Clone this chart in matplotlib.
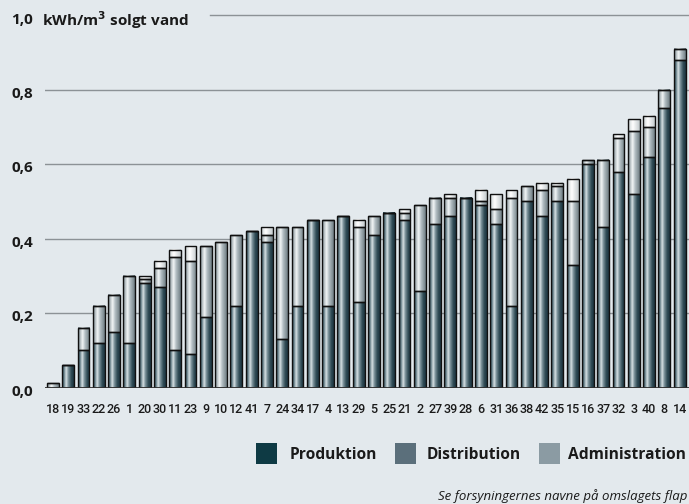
import numpy as np
import matplotlib.pyplot as plt
from matplotlib.colors import LinearSegmentedColormap
from matplotlib import transforms

# Forsyninger sorteret efter samlet forbrug
forsyninger = ['18', '19', '33', '22', '26', '1', '20', '30', '11', '23',
               '9', '10', '12', '41', '7', '24', '34', '17', '4', '13',
               '29', '5', '25', '21', '2', '27', '39', '28', '6', '31',
               '36', '38', '42', '35', '15', '16', '37', '32', '3', '40',
               '8', '14']

# kWh/m3 solgt vand
produktion = [0.0, 0.061, 0.10, 0.12, 0.15, 0.12, 0.28, 0.27, 0.10, 0.09,
              0.19, 0.0, 0.22, 0.42, 0.39, 0.13, 0.22, 0.45, 0.22, 0.46,
              0.23, 0.41, 0.47, 0.45, 0.26, 0.44, 0.46, 0.51, 0.49, 0.44,
              0.22, 0.50, 0.46, 0.50, 0.33, 0.60, 0.43, 0.58, 0.52, 0.62,
              0.75, 0.88]
distribution = [0.012, 0.0, 0.06, 0.10, 0.10, 0.18, 0.012, 0.05, 0.25, 0.25,
                0.19, 0.39, 0.19, 0.0, 0.02, 0.30, 0.21, 0.0, 0.23, 0.0,
                0.20, 0.05, 0.0, 0.02, 0.23, 0.07, 0.05, 0.0, 0.01, 0.04,
                0.29, 0.04, 0.07, 0.04, 0.17, 0.01, 0.18, 0.09, 0.17, 0.08,
                0.05, 0.03]
administration = [0.0, 0.0, 0.0, 0.0, 0.0, 0.0, 0.008, 0.02, 0.02, 0.04,
                  0.0, 0.0, 0.0, 0.0, 0.02, 0.0, 0.0, 0.0, 0.0, 0.0,
                  0.02, 0.0, 0.0, 0.01, 0.0, 0.0, 0.01, 0.0, 0.03, 0.04,
                  0.02, 0.0, 0.02, 0.01, 0.06, 0.0, 0.0, 0.01, 0.03, 0.03,
                  0.0, 0.0]

y_ticks = [0.0, 0.2, 0.4, 0.6, 0.8]
y_labels = ['0,0', '0,2', '0,4', '0,6', '0,8']
serier = ['Produktion', 'Distribution', 'Administration']
legend_farver = ['#0e3a44', '#5b6f7b', '#8b9ba3']

# cylinder-skygge for hvert segment
skygger = [
    LinearSegmentedColormap.from_list('prod', [(0, '#2a4751'), (0.15, '#5d7780'), (0.36, '#d9e2e5'),
                                               (0.52, '#7f959d'), (0.78, '#304b55'), (1, '#1c3540')]),
    LinearSegmentedColormap.from_list('dist', [(0, '#7a888e'), (0.38, '#f3f6f7'), (0.6, '#b3bec3'),
                                               (1, '#6e7c82')]),
    LinearSegmentedColormap.from_list('adm', [(0, '#c6cdd0'), (0.4, '#ffffff'), (1, '#c2c9cc')]),
]

BG = '#e3e9ed'
TXT = '#1a1a1a'


def tegn_figur():
    fig = plt.figure(figsize=(6.89, 5.04), dpi=100, facecolor=BG)
    W, H = 689, 504
    ax = fig.add_axes([45 / W, 1 - 387.7 / H, 644 / W, (387.7 - 15) / H])
    ax.set_facecolor(BG)

    x = np.arange(len(forsyninger))
    bredde = 0.78
    gradient = np.linspace(0, 1, 64)[None, :]

    bund = np.zeros(len(forsyninger))
    for serie, cmap in zip([produktion, distribution, administration], skygger):
        vals = np.array(serie)
        ax.bar(x, vals, bredde, bottom=bund, facecolor='none', edgecolor='#101010',
               linewidth=1.0, zorder=4)
        for xi, b, v in zip(x, bund, vals):
            if v <= 0:
                continue
            ax.imshow(gradient, cmap=cmap, aspect='auto', interpolation='bilinear',
                      extent=[xi - bredde / 2, xi + bredde / 2, b, b + v], zorder=3)
        bund = bund + vals

    # hjælpelinjer
    for v in y_ticks[1:]:
        ax.axhline(v, color='#8c9296', lw=1.0, zorder=1)
    ax.axhline(1.0, xmin=(210 - 45) / 644, xmax=1, color='#8c9296', lw=1.0, zorder=1, clip_on=False)
    ax.axhline(0.0, color='#303030', lw=1.3, zorder=5)

    ax.set_xlim(-0.52, 41.61)
    ax.set_ylim(0, 1.0)
    for s in ax.spines.values():
        s.set_visible(False)
    ax.set_xticks(x)
    ax.set_xticklabels(forsyninger, family='Roboto', fontsize=9, fontweight='medium', color=TXT)
    ax.tick_params(axis='x', length=0, pad=11)
    ax.set_yticks([])

    # y-akse tekster
    trans = transforms.offset_copy(transforms.blended_transform_factory(fig.transFigure, ax.transData),
                                   fig=fig, y=-4, units='dots')
    for v, lab in zip(y_ticks, y_labels):
        ax.text(11 / W, v, lab, transform=trans, ha='left', va='center', fontsize=11,
                fontweight='bold', color=TXT, family='Open Sans')
    fig.text(11 / W, 1 - 20 / H, '1,0', ha='left', va='center', fontsize=11,
             fontweight='bold', color=TXT, family='Open Sans')
    fig.text(42 / W, 1 - 20 / H, 'kWh/m$^\\mathbf{3}$ solgt vand', ha='left', va='center', fontsize=11,
             fontweight='bold', color=TXT, family='Open Sans')

    # forklaring
    pos = [(256, 290), (395, 427), (539, 568)]
    for (sx, tx), navn, farve in zip(pos, serier, legend_farver):
        fig.patches.append(plt.Rectangle((sx / W, 1 - 464 / H), 21 / W, 21 / H,
                                         transform=fig.transFigure, facecolor=farve, edgecolor='none'))
        fig.text(tx / W, 1 - 455 / H, navn, ha='left', va='center', fontsize=11.2,
                 fontweight='bold', color=TXT, family='Open Sans')

    fig.text(687 / W, 1 - 500 / H, 'Se forsyningernes navne på omslagets flap', ha='right',
             va='baseline', fontsize=9.5, style='italic', color=TXT, family='Open Sans')

    fig.savefig('out.png', dpi=100, facecolor=BG)


def main():
    tegn_figur()


if __name__ == "__main__":
    main()
